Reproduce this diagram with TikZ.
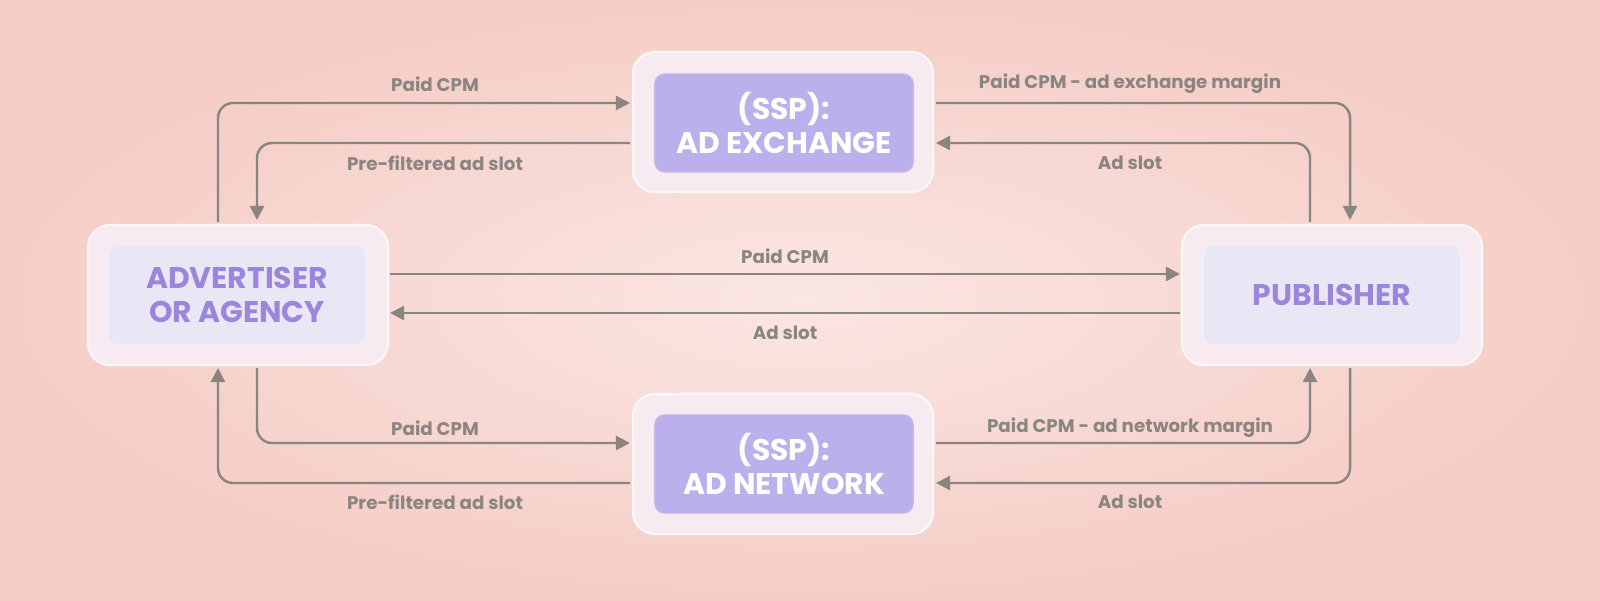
\documentclass[tikz,border=0pt]{standalone}
\usepackage{fontspec}
\setmainfont{Poppins}
\usetikzlibrary{arrows.meta}
\definecolor{bgin}{HTML}{FBE6E2}
\definecolor{bgout}{HTML}{F5CDC6}
\definecolor{shell}{HTML}{F7EAF0}
\definecolor{pale}{HTML}{E9E7F5}
\definecolor{violet}{HTML}{BCB0EC}
\definecolor{ink}{HTML}{9A86DA}
\definecolor{flowgray}{HTML}{8A8580}
\tikzset{
  shell/.style={draw=white!60!shell, line width=0.6pt, fill=shell, rounded corners=0.22cm,
    minimum width=3cm, minimum height=1.4cm, inner sep=0pt},
  party/.style={fill=pale, draw=white!40!pale, rounded corners=0.1cm, minimum width=2.58cm,
    minimum height=1cm, align=center, text=ink, font=\bfseries\fontsize{8.5}{9.5}\selectfont},
  ssp/.style={fill=violet, draw=ink!60, rounded corners=0.1cm, minimum width=2.58cm,
    minimum height=0.98cm, align=center, text=white, font=\bfseries\fontsize{8.5}{9.5}\selectfont},
  flow/.style={draw=flowgray, line width=0.7pt, rounded corners=0.15cm, -{Triangle[length=4pt,width=4pt]}},
  tag/.style={text=flowgray, font=\bfseries\fontsize{5.2}{6}\selectfont}
}
\begin{document}
\begin{tikzpicture}[x=0.01cm, y=-0.01cm]
  % background
  \useasboundingbox (0,0) rectangle (1600,600);
  \shade[overlay, inner color=bgin, outer color=bgout] (0,0) rectangle (1600,600);

  % boxes
  \node[shell] (advS) at (238,295) {};
  \node[shell] (exchS) at (783,122) {};
  \node[shell] (netS) at (783,464) {};
  \node[shell] (pubS) at (1332,295) {};
  \node[party] (adv) at (237,295) {ADVERTISER\\OR AGENCY};
  \node[ssp] (exch) at (784,123) {(SSP):\\AD EXCHANGE};
  \node[ssp] (net) at (784,464) {(SSP):\\AD NETWORK};
  \node[party] (pub) at (1332,295) {PUBLISHER};

  % connector ends
  \coordinate (a1) at (218,222);  \coordinate (a2) at (257,220);
  \coordinate (a3) at (257,368);  \coordinate (a4) at (218,368);
  \coordinate (p1) at (1350,220); \coordinate (p2) at (1310,222);
  \coordinate (p3) at (1310,368); \coordinate (p4) at (1350,368);
  \coordinate (e1) at (630,103);  \coordinate (e2) at (630,143);
  \coordinate (e3) at (936,103);  \coordinate (e4) at (936,143);
  \coordinate (n1) at (630,443);  \coordinate (n2) at (630,483);
  \coordinate (n3) at (936,443);  \coordinate (n4) at (936,483);
  \coordinate (m1) at (390,274);  \coordinate (m2) at (1180,274);
  \coordinate (m3) at (1180,313); \coordinate (m4) at (390,313);

  % top loop
  \draw[flow] (a1) |- (e1);
  \draw[flow] (e2) -| (a2);
  \draw[flow] (e3) -| (p1);
  \draw[flow] (p2) |- (e4);
  % middle
  \draw[flow] (m1) -- (m2);
  \draw[flow] (m3) -- (m4);
  % bottom loop
  \draw[flow] (a3) |- (n1);
  \draw[flow] (n2) -| (a4);
  \draw[flow] (n3) -| (p3);
  \draw[flow] (p4) |- (n4);

  % labels
  \node[tag] (t1) at (435,84) {Paid CPM};
  \node[tag] (t2) at (435,163) {Pre-filtered ad slot};
  \node[tag] (t3) at (1130,84) {Paid CPM - ad exchange margin};
  \node[tag] (t4) at (1130,163) {Ad slot};
  \node[tag] (t5) at (785,256) {Paid CPM};
  \node[tag] (t6) at (785,333) {Ad slot};
  \node[tag] (t7) at (435,428) {Paid CPM};
  \node[tag] (t8) at (435,502) {Pre-filtered ad slot};
  \node[tag] (t9) at (1130,428) {Paid CPM - ad network margin};
  \node[tag] (t10) at (1130,502) {Ad slot};
\end{tikzpicture}
\end{document}
